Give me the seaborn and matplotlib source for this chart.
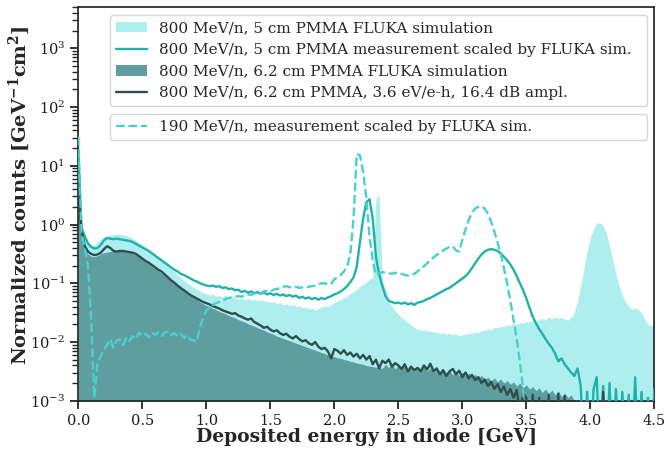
import numpy as np
import pandas as pd
import matplotlib
matplotlib.use("Agg")
import matplotlib.pyplot as plt
from matplotlib.patches import Patch
from matplotlib.lines import Line2D
import seaborn as sns

# Energy bin centres [GeV], 25 MeV bins from 0 to 4.5 GeV
bin_width = 0.025
energy_gev = np.round(np.arange(181) * bin_width, 3)

# log10 of normalized counts [GeV^-1 cm^2]; -4 marks empty bins (below the axis)
sim_5cm_log = [
    1.6, -0.1, -0.25, -0.32, -0.36, -0.35, -0.3, -0.25, -0.21, -0.2,
    -0.18, -0.17, -0.16, -0.17, -0.17, -0.19, -0.21, -0.24, -0.27, -0.31,
    -0.35, -0.39, -0.43, -0.47, -0.52, -0.56, -0.61, -0.66, -0.71, -0.76,
    -0.81, -0.86, -0.9, -0.95, -0.99, -1.03, -1.07, -1.1, -1.13, -1.16,
    -1.18, -1.2, -1.19, -1.22, -1.21, -1.23, -1.2, -1.24, -1.22, -1.25,
    -1.27, -1.25, -1.28, -1.26, -1.29, -1.27, -1.3, -1.28, -1.31, -1.3,
    -1.33, -1.31, -1.35, -1.33, -1.37, -1.35, -1.38, -1.36, -1.4, -1.38,
    -1.42, -1.4, -1.44, -1.42, -1.46, -1.43, -1.41, -1.38, -1.4, -1.36,
    -1.33, -1.3, -1.28, -1.25, -1.22, -1.18, -1.14, -1.1, -1.06, -1.02,
    -0.98, -0.94, -0.9, 0.45, 0.5, -0.95, -1.1, -1.28, -1.4, -1.47,
    -1.53, -1.58, -1.63, -1.67, -1.72, -1.75, -1.78, -1.8, -1.79, -1.82,
    -1.81, -1.84, -1.83, -1.86, -1.84, -1.87, -1.85, -1.88, -1.86, -1.9,
    -1.88, -1.87, -1.85, -1.86, -1.83, -1.84, -1.81, -1.8, -1.78, -1.79,
    -1.75, -1.76, -1.73, -1.74, -1.71, -1.72, -1.69, -1.7, -1.67, -1.68,
    -1.65, -1.66, -1.63, -1.65, -1.62, -1.6, -1.63, -1.58, -1.61, -1.57,
    -1.6, -1.58, -1.61, -1.63, -1.58, -1.5, -1.3, -1.05, -0.75, -0.45,
    -0.22, -0.08, 0.02, 0.03, -0.02, -0.15, -0.35, -0.6, -0.85, -1.05,
    -1.2, -1.32, -1.4, -1.44, -1.42, -1.45, -1.5, -1.62, -1.7, -1.72,
    -1.72,
]

meas_5cm_log = [
    1.2, -0.05, -0.2, -0.32, -0.38, -0.41, -0.4, -0.35, -0.27, -0.23,
    -0.24, -0.25, -0.24, -0.25, -0.26, -0.27, -0.28, -0.3, -0.33, -0.36,
    -0.39, -0.42, -0.45, -0.49, -0.53, -0.57, -0.61, -0.65, -0.69, -0.73,
    -0.77, -0.8, -0.84, -0.86, -0.89, -0.92, -0.95, -0.97, -1.0, -1.02,
    -1.04, -1.05, -1.04, -1.06, -1.05, -1.08, -1.07, -1.1, -1.09, -1.12,
    -1.11, -1.15, -1.13, -1.16, -1.14, -1.17, -1.15, -1.18, -1.16, -1.19,
    -1.17, -1.2, -1.18, -1.21, -1.19, -1.22, -1.2, -1.23, -1.21, -1.25,
    -1.23, -1.26, -1.24, -1.27, -1.25, -1.28, -1.25, -1.27, -1.24, -1.22,
    -1.19, -1.17, -1.14, -1.1, -1.05, -0.98, -0.9, -0.72, -0.3, 0.1,
    0.38, 0.43, 0.1, -0.55, -0.85, -1.05, -1.22, -1.3, -1.32, -1.34,
    -1.33, -1.35, -1.33, -1.36, -1.34, -1.37, -1.33, -1.32, -1.3, -1.27,
    -1.25, -1.22, -1.19, -1.16, -1.13, -1.1, -1.08, -1.04, -1.0, -0.96,
    -0.92, -0.88, -0.82, -0.74, -0.66, -0.58, -0.51, -0.46, -0.43, -0.42,
    -0.43, -0.45, -0.49, -0.55, -0.61, -0.68, -0.77, -0.88, -1.0, -1.12,
    -1.26, -1.42, -1.57, -1.68, -1.78, -1.86, -1.95, -2.03, -2.1, -2.2,
    -2.33, -2.28, -2.38, -2.45, -2.52, -2.58, -2.45, -2.75, -4, -2.85,
    -4, -2.8, -2.6, -4, -2.75, -4, -2.7, -4, -2.8, -4,
    -2.85, -4, -2.9, -4, -2.6, -4, -2.85, -4, -2.95, -4,
    -2.8,
]

sim_62cm_log = [
    0.45, -0.25, -0.42, -0.5, -0.54, -0.55, -0.53, -0.5, -0.48, -0.47,
    -0.46, -0.45, -0.45, -0.44, -0.45, -0.46, -0.47, -0.49, -0.52, -0.55,
    -0.59, -0.63, -0.67, -0.71, -0.75, -0.79, -0.83, -0.87, -0.92, -0.96,
    -1.0, -1.05, -1.09, -1.13, -1.17, -1.21, -1.25, -1.28, -1.32, -1.35,
    -1.38, -1.4, -1.43, -1.45, -1.48, -1.5, -1.52, -1.55, -1.57, -1.59,
    -1.62, -1.64, -1.66, -1.69, -1.71, -1.73, -1.76, -1.78, -1.8, -1.83,
    -1.85, -1.87, -1.9, -1.92, -1.94, -1.96, -1.98, -2.0, -2.02, -2.04,
    -2.06, -2.08, -2.1, -2.12, -2.14, -2.16, -2.18, -2.2, -2.22, -2.24,
    -2.25, -2.27, -2.28, -2.3, -2.31, -2.33, -2.34, -2.36, -2.37, -2.38,
    -2.4, -2.41, -2.42, -2.43, -2.44, -2.45, -2.38, -2.44, -2.36, -2.46,
    -2.4, -2.45, -2.38, -2.47, -2.42, -2.5, -2.43, -2.48, -2.42, -2.5,
    -2.44, -2.52, -2.46, -2.54, -2.47, -2.53, -2.48, -2.56, -2.5, -2.57,
    -2.52, -2.58, -2.53, -2.6, -2.55, -2.62, -2.57, -2.64, -2.6, -2.66,
    -2.61, -2.68, -2.63, -2.7, -2.66, -2.72, -2.68, -2.75, -2.7, -2.78,
    -2.73, -2.8, -2.76, -2.83, -2.78, -2.86, -2.8, -2.88, -2.82, -2.9,
    -2.84, -2.93, -2.87, -2.95, -2.9, -3.0, -3.05, -4, -4, -4,
    -4, -4, -4, -4, -4, -4, -4, -4, -4, -4,
    -4, -4, -4, -4, -4, -4, -4, -4, -4, -4,
    -4,
]

meas_62cm_log = [
    0.48, -0.1, -0.36, -0.46, -0.5, -0.52, -0.51, -0.48, -0.42, -0.37,
    -0.4, -0.45, -0.46, -0.45, -0.45, -0.46, -0.47, -0.48, -0.5, -0.54,
    -0.58, -0.62, -0.65, -0.69, -0.73, -0.77, -0.8, -0.85, -0.9, -0.95,
    -0.99, -1.04, -1.08, -1.12, -1.16, -1.2, -1.23, -1.26, -1.29, -1.32,
    -1.34, -1.36, -1.39, -1.41, -1.43, -1.46, -1.48, -1.5, -1.52, -1.51,
    -1.55, -1.57, -1.6, -1.62, -1.6, -1.66, -1.69, -1.72, -1.76, -1.74,
    -1.79, -1.82, -1.8, -1.85, -1.88, -1.86, -1.91, -1.94, -1.9, -1.95,
    -1.99, -1.97, -2.02, -2.05, -2.0, -2.08, -2.12, -2.1, -2.16, -2.28,
    -2.12, -2.15, -2.2, -2.14, -2.22, -2.18, -2.25, -2.2, -2.28, -2.22,
    -2.3, -2.24, -2.38, -2.3, -2.45, -2.32, -2.36, -2.3, -2.42, -2.36,
    -2.4, -2.46, -2.38, -2.5, -2.42, -2.48, -2.44, -2.5, -2.4, -2.47,
    -2.37, -2.5, -2.45, -2.55, -2.48, -2.58, -2.5, -2.46, -2.55, -2.49,
    -2.6, -2.52, -2.62, -2.56, -2.65, -2.6, -2.7, -2.64, -2.75, -2.68,
    -2.8, -2.72, -2.85, -2.76, -2.9, -2.8, -2.95, -2.82, -3.2, -2.88,
    -2.95, -4, -2.9, -4, -2.95, -4, -4, -2.9, -4, -4,
    -2.88, -4, -2.92, -4, -4, -4, -4, -4, -4, -4,
    -4, -4, -4, -4, -2.85, -4, -4, -4, -4, -4,
    -4, -4, -4, -4, -4, -4, -4, -4, -4, -4,
    -4,
]

meas_190_log = [
    1.5, -0.15, -0.4, -0.7, -1.6, -2.95, -2.35, -2.25, -2.12, -2.05,
    -1.95, -2.1, -1.97, -1.96, -2.05, -1.93, -1.98, -1.9, -1.95, -1.84,
    -1.9, -1.86, -1.92, -1.84, -1.88, -1.83, -1.9, -1.84, -1.82, -1.88,
    -1.85, -1.9, -1.86, -1.93, -1.88, -1.96, -1.97, -1.99, -1.75, -1.58,
    -1.46, -1.42, -1.37, -1.34, -1.32, -1.3, -1.27, -1.25, -1.24, -1.23,
    -1.22, -1.23, -1.2, -1.19, -1.2, -1.17, -1.16, -1.17, -1.14, -1.13,
    -1.14, -1.11, -1.1, -1.08, -1.06, -1.05, -1.07, -1.05, -1.06, -1.08,
    -1.07, -1.08, -1.06, -1.05, -1.04, -1.02, -1.0, -1.0, -1.02, -1.01,
    -0.93, -0.9, -0.86, -0.8, -0.72, -0.5, 0.1, 1.2, 1.18, 0.9,
    0.45, -0.2, -0.62, -0.86, -0.84, -0.81, -0.82, -0.83, -0.84, -0.82,
    -0.85, -0.84, -0.86, -0.87, -0.86, -0.84, -0.8, -0.75, -0.71, -0.66,
    -0.61, -0.56, -0.52, -0.48, -0.44, -0.41, -0.38, -0.37, -0.44, -0.46,
    -0.26, -0.08, 0.08, 0.2, 0.27, 0.3, 0.31, 0.27, 0.18, 0.05,
    -0.12, -0.3, -0.5, -0.75, -1.0, -1.3, -1.62, -1.95, -2.35, -2.8,
    -4, -4, -4, -4, -4, -4, -4, -4, -4, -4,
    -4, -4, -4, -4, -4, -4, -4, -4, -4, -4,
    -4, -4, -4, -4, -4, -4, -4, -4, -4, -4,
    -4, -4, -4, -4, -4, -4, -4, -4, -4, -4,
    -4,
]

labels = [
    "800 MeV/n, 5 cm PMMA FLUKA simulation",
    "800 MeV/n, 5 cm PMMA measurement scaled by FLUKA sim.",
    "800 MeV/n, 6.2 cm PMMA FLUKA simulation",
    "800 MeV/n, 6.2 cm PMMA, 3.6 eV/e-h, 16.4 dB ampl.",
    "190 MeV/n, measurement scaled by FLUKA sim.",
]
x_ticks = [0.0, 0.5, 1.0, 1.5, 2.0, 2.5, 3.0, 3.5, 4.0, 4.5]

spectra = pd.DataFrame({
    "energy": energy_gev,
    "sim_5cm": 10.0 ** np.array(sim_5cm_log),
    "meas_5cm": 10.0 ** np.array(meas_5cm_log),
    "sim_62cm": 10.0 ** np.array(sim_62cm_log),
    "meas_62cm": 10.0 ** np.array(meas_62cm_log),
    "meas_190": 10.0 ** np.array(meas_190_log),
})

c_sim5 = "#AFEEEE"
c_meas5 = "#20B2AA"
c_sim62 = "#5F9EA0"
c_meas62 = "#2F4F4F"
c_meas190 = "#48D1CC"

sns.set_theme(style="ticks")
plt.rcParams["font.family"] = ["DejaVu Serif"]
plt.rcParams["mathtext.fontset"] = "dejavuserif"

fig = plt.figure(figsize=(6.66, 4.49), dpi=100)
ax = fig.add_axes([0.1176, 0.1076, 0.8649, 0.8762])

floor = 1e-4
ax.fill_between(spectra["energy"], spectra["sim_5cm"], floor, color=c_sim5, lw=0, zorder=1)
ax.fill_between(spectra["energy"], spectra["sim_62cm"], floor, color=c_sim62, lw=0, zorder=2)
sns.lineplot(data=spectra, x="energy", y="meas_5cm", color=c_meas5, lw=1.7,
             estimator=None, sort=False, legend=False, ax=ax, zorder=3)
sns.lineplot(data=spectra, x="energy", y="meas_62cm", color=c_meas62, lw=1.7,
             estimator=None, sort=False, legend=False, ax=ax, zorder=4)
sns.lineplot(data=spectra, x="energy", y="meas_190", color=c_meas190, lw=1.7,
             ls="--", estimator=None, sort=False, legend=False, ax=ax, zorder=5)

ax.set_yscale("log")
ax.set_ylim(1e-3, 5e3)
ax.set_xlim(0, 4.5)
ax.set_xticks(x_ticks)
ax.set_xticklabels([f"{t:.1f}" for t in x_ticks])
ax.tick_params(labelsize=10.5, colors="0.1")
ax.set_xlabel("Deposited energy in diode [GeV]", fontsize=13.5, fontweight="bold", labelpad=0)
ax.set_ylabel(r"Normalized counts [GeV$^{\mathbf{-1}}$cm$^{\mathbf{2}}$]",
              fontsize=14, fontweight="bold")
ax.yaxis.set_label_coords(-0.08, 0.523)

legend_kw = dict(loc="upper left", mode="expand", borderaxespad=0, fontsize=11,
                 frameon=True, framealpha=0.8, edgecolor="0.8", fancybox=True)
main_handles = [
    Patch(facecolor=c_sim5, edgecolor="none"),
    Line2D([], [], color=c_meas5, lw=1.7),
    Patch(facecolor=c_sim62, edgecolor="none"),
    Line2D([], [], color=c_meas62, lw=1.7),
]
leg1 = ax.legend(main_handles, labels[:4], bbox_to_anchor=(0.055, 0.5, 0.932, 0.48), **legend_kw)
ax.add_artist(leg1)
ax.legend([Line2D([], [], color=c_meas190, lw=1.7, ls="--")], labels[4:],
          bbox_to_anchor=(0.055, 0.3, 0.932, 0.429), **legend_kw)

fig.savefig("out.png", dpi=100)
